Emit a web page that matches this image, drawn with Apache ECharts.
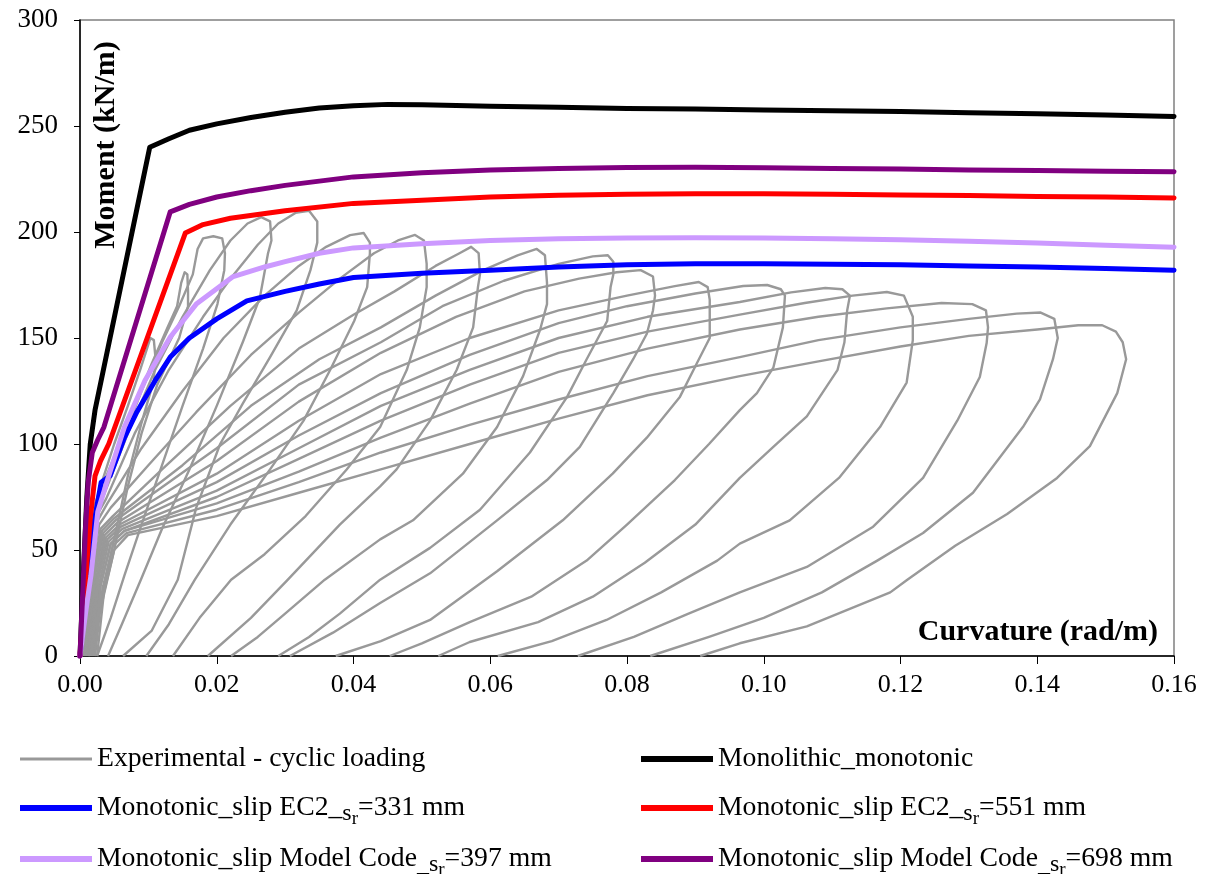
<!DOCTYPE html>
<html><head><meta charset="utf-8">
<script src="https://cdn.jsdelivr.net/npm/echarts/dist/echarts.min.js"></script>
<style>html,body{margin:0;padding:0;background:#fff}#c{width:1211px;height:874px}</style>
</head><body><div id="c"></div>
<script>
// ---------- experimental cyclic loops: [curvature, moment] ----------
const cyc00 = [[0.0004,0],[0.0011,50],[0.0019,68],[0.003,80],[0.005,100],[0.007,118],[0.0088,135],[0.0098,145],[0.0103,150],[0.0108,149],[0.011,142],[0.0108,130],[0.009,110],[0.007,85],[0.005,55],[0.003,25],[0.0012,0]];
const cyc01 = [[0.0005,0],[0.0012,50],[0.002,70],[0.003,78],[0.0055,98],[0.008,118],[0.0105,138],[0.0128,155],[0.0142,165],[0.0148,176],[0.0153,181],[0.0157,180],[0.0158,172],[0.0158,165],[0.0145,150],[0.0113,128],[0.009,105],[0.007,80],[0.005,50],[0.003,22],[0.0012,0]];
const cyc02 = [[0.0006,0],[0.0013,50],[0.0021,70],[0.0033,78],[0.006,100],[0.009,125],[0.012,148],[0.0145,165],[0.0165,180],[0.0172,192],[0.018,197],[0.0195,198],[0.0208,197],[0.0212,190],[0.0211,182],[0.0201,166],[0.018,145],[0.015,118],[0.012,90],[0.009,62],[0.0065,38],[0.0045,18],[0.0025,0]];
const cyc03 = [[0.0007,0],[0.0014,48],[0.0022,68],[0.0035,76],[0.007,105],[0.011,135],[0.015,160],[0.019,182],[0.022,196],[0.0245,204],[0.0265,207],[0.0278,205],[0.028,196],[0.0275,190],[0.0263,169],[0.0238,148],[0.02,118],[0.016,88],[0.012,60],[0.0089,36],[0.006,14],[0.0041,0]];
const cyc04 = [[0.0008,0],[0.0015,46],[0.0024,66],[0.0038,74],[0.008,105],[0.013,135],[0.018,160],[0.022,178],[0.026,194],[0.029,204],[0.0315,209],[0.0335,210],[0.0347,205],[0.0347,195],[0.0337,182],[0.0317,163],[0.0278,141],[0.0238,119],[0.0205,100],[0.017,70],[0.0143,36],[0.0105,12],[0.0063,0]];
const cyc05 = [[0.0009,0],[0.0016,44],[0.0026,64],[0.004,72],[0.009,98],[0.015,125],[0.021,150],[0.027,170],[0.032,184],[0.036,193],[0.0395,198.5],[0.0415,199.5],[0.0424,195],[0.0424,190],[0.042,174],[0.0401,158],[0.0366,135],[0.0327,111],[0.0278,88],[0.022,62],[0.0168,36],[0.013,15],[0.0097,0]];
const cyc06 = [[0.001,0],[0.0018,42],[0.0028,62],[0.0045,70],[0.01,90],[0.017,115],[0.025,142],[0.032,162],[0.038,178],[0.043,190],[0.0465,196],[0.049,198.6],[0.0503,196],[0.0507,185],[0.0507,174],[0.0497,155],[0.0478,135],[0.0439,108],[0.039,88],[0.033,66],[0.027,48],[0.0221,36],[0.0175,18],[0.0136,0]];
const cyc07 = [[0.0011,0],[0.002,40],[0.003,60],[0.0048,66],[0.012,88],[0.022,118],[0.032,145],[0.04,161],[0.046,172],[0.052,184],[0.0555,190],[0.0572,193],[0.0583,190],[0.0585,180],[0.0582,174],[0.0575,155],[0.0551,135],[0.0512,111],[0.0463,88],[0.0439,80],[0.038,62],[0.0304,36],[0.025,18],[0.0187,0]];
const cyc08 = [[0.0012,0],[0.0021,39],[0.0032,59],[0.005,65],[0.015,90],[0.025,118],[0.035,140],[0.044,155],[0.052,170],[0.059,182],[0.064,189],[0.0668,192],[0.068,189],[0.0683,176],[0.0683,166],[0.0673,154],[0.0648,132],[0.061,108],[0.056,86],[0.0487,64],[0.0439,55],[0.0358,36],[0.03,20],[0.026,9],[0.0221,0]];
const cyc09 = [[0.0013,0],[0.0022,38],[0.0034,58],[0.0052,64],[0.02,98],[0.032,128],[0.044,148],[0.053,165],[0.062,177],[0.07,185],[0.075,188.5],[0.0772,189],[0.078,186],[0.078,180],[0.0776,174],[0.0771,158],[0.0741,140],[0.0712,122],[0.0658,96],[0.0585,69],[0.0512,51],[0.0439,36],[0.038,20],[0.0335,9],[0.029,0]];
const cyc10 = [[0.0014,0],[0.0024,37],[0.0036,57],[0.0055,63],[0.02,92],[0.032,120],[0.044,143],[0.055,160],[0.065,172],[0.073,178],[0.0785,181],[0.082,182],[0.0838,179],[0.0841,170],[0.0838,163],[0.0829,152],[0.0809,140],[0.078,124],[0.0731,98.6],[0.0683,83],[0.061,64],[0.0512,39],[0.0439,25],[0.037,11],[0.0307,0]];
const cyc11 = [[0.0015,0],[0.0025,36],[0.0038,56],[0.0058,62],[0.02,86],[0.032,111],[0.044,133],[0.057,150],[0.07,163],[0.08,170],[0.087,174.5],[0.0905,176.4],[0.0918,174],[0.0921,168],[0.0921,150],[0.0902,138],[0.0877,122],[0.0829,103],[0.0779,86],[0.0706,64],[0.061,40],[0.0512,17],[0.044,7],[0.0374,0]];
const cyc12 = [[0.0016,0],[0.0026,35],[0.004,55],[0.006,61],[0.02,82],[0.032,104],[0.044,124],[0.057,142],[0.07,157],[0.08,165],[0.09,171],[0.097,174.5],[0.1005,175],[0.1025,173],[0.1031,170],[0.1028,155],[0.1014,136],[0.099,124],[0.0965,116],[0.092,100],[0.087,83],[0.08,62],[0.0741,45],[0.066,28],[0.057,16],[0.05,6],[0.0453,0]];
const cyc13 = [[0.0018,0],[0.0028,34],[0.0042,54],[0.0062,60],[0.02,78],[0.032,98],[0.044,118],[0.057,135],[0.07,150],[0.083,160],[0.0965,167],[0.104,171.5],[0.109,173.6],[0.1115,173],[0.1126,170],[0.1122,163],[0.1118,148],[0.1108,135],[0.1063,113],[0.1014,98.6],[0.0965,84],[0.09,62],[0.0826,44],[0.075,28],[0.067,16],[0.057,6.6],[0.0524,0]];
const cyc14 = [[0.002,0],[0.003,33],[0.0045,53],[0.0065,59],[0.02,75],[0.032,93],[0.044,111],[0.057,128],[0.07,143],[0.083,153],[0.0965,161],[0.106,166.5],[0.113,170],[0.118,171.7],[0.1205,170],[0.1218,160],[0.1218,149],[0.1209,129],[0.117,108],[0.111,84],[0.1038,64],[0.0965,53],[0.0932,45],[0.085,30],[0.077,17],[0.069,7],[0.0611,0]];
const cyc15 = [[0.0021,0],[0.003,33],[0.0045,53],[0.0065,59],[0.02,72],[0.032,87],[0.044,103],[0.057,119],[0.07,134],[0.083,145],[0.0965,154],[0.108,160],[0.118,164],[0.126,166.5],[0.1305,166],[0.1325,163],[0.1328,155],[0.1326,147.6],[0.1316,131.6],[0.1283,111],[0.1233,84],[0.116,61],[0.1063,42],[0.0965,30],[0.089,20],[0.081,9],[0.0728,0]];
const cyc16 = [[0.0022,0],[0.0033,32],[0.0048,52],[0.0068,58],[0.02,69],[0.032,82],[0.044,96],[0.057,109],[0.07,121],[0.083,132],[0.0965,141],[0.108,149],[0.12,155],[0.13,159],[0.137,161.5],[0.1405,162],[0.1425,159],[0.143,150],[0.1423,140],[0.1404,121],[0.1379,108],[0.1306,77],[0.1233,58],[0.1166,45],[0.1085,30],[0.1,18],[0.092,9],[0.0834,0]];
const cyc17 = [[0.0025,0],[0.0035,30],[0.005,50],[0.007,57],[0.02,66],[0.032,77],[0.044,88],[0.057,100],[0.07,112],[0.083,123],[0.0965,132],[0.108,139],[0.12,146],[0.13,151],[0.14,154],[0.146,156],[0.1495,156],[0.1515,153],[0.1525,148],[0.153,140],[0.1517,124],[0.1477,99],[0.1429,84],[0.1356,67],[0.128,52],[0.121,36],[0.1185,30],[0.1063,14],[0.0965,6],[0.0907,0]];
const cyclicLoops = [cyc00,cyc01,cyc02,cyc03,cyc04,cyc05,cyc06,cyc07,cyc08,cyc09,cyc10,cyc11,cyc12,cyc13,cyc14,cyc15,cyc16,cyc17];

// ---------- monotonic model curves ----------
const monolithic = [[0,0],[0.0005,40],[0.001,75],[0.0015,100],[0.0022,116],[0.0102,240],[0.013,244],[0.016,248],[0.02,251],[0.025,254],[0.03,256.5],[0.035,258.5],[0.04,259.6],[0.045,260.2],[0.05,260],[0.06,259.3],[0.07,258.8],[0.08,258.3],[0.09,258],[0.1,257.6],[0.11,257.2],[0.12,256.8],[0.13,256.3],[0.14,255.8],[0.15,255.2],[0.16,254.5]];
const slipEC2_331 = [[0,0],[0.0006,20],[0.0012,36],[0.002,62],[0.0031,82],[0.0044,85],[0.0065,103],[0.0083,115],[0.011,130],[0.0132,141],[0.016,150],[0.02,159],[0.0244,167.5],[0.03,172],[0.035,175.5],[0.04,178.5],[0.05,180.5],[0.06,182],[0.07,183.5],[0.08,184.5],[0.09,185],[0.1,185],[0.11,184.8],[0.12,184.5],[0.13,184],[0.14,183.5],[0.15,182.8],[0.16,182]];
const slipEC2_551 = [[0,0],[0.0008,35],[0.0015,65],[0.0022,85],[0.003,92],[0.0042,100],[0.0154,199.5],[0.018,203.5],[0.022,206.5],[0.03,210],[0.04,213.5],[0.05,215],[0.06,216.5],[0.07,217.3],[0.08,217.8],[0.09,218],[0.1,218],[0.11,217.8],[0.12,217.5],[0.13,217.2],[0.14,216.8],[0.15,216.5],[0.16,216]];
const slipMC_397 = [[0,0],[0.0008,20],[0.0016,38],[0.0026,68],[0.0041,84],[0.0065,108],[0.0095,130],[0.0132,150.5],[0.017,166],[0.0224,179],[0.027,183.5],[0.03,186],[0.035,190],[0.04,192.5],[0.05,194.5],[0.06,196],[0.07,196.8],[0.08,197.2],[0.09,197.3],[0.1,197.2],[0.11,196.8],[0.12,196.3],[0.13,195.6],[0.14,194.8],[0.15,193.8],[0.16,192.8]];
const slipMC_698 = [[0,0],[0.0004,30],[0.0008,60],[0.0012,82],[0.0018,96],[0.0026,102],[0.0035,108],[0.0132,209.5],[0.016,213],[0.02,216.5],[0.025,219.5],[0.03,222],[0.035,224],[0.04,226],[0.05,228],[0.06,229.3],[0.07,230],[0.08,230.4],[0.09,230.5],[0.1,230.3],[0.11,230],[0.12,229.7],[0.13,229.3],[0.14,229],[0.15,228.7],[0.16,228.4]];

const xMin = 0, xMax = 0.16, xStep = 0.02;
const yMin = 0, yMax = 300, yStep = 50;

const FONT = '"Liberation Serif","Times New Roman",serif';
const N_EXP = 'Experimental - cyclic loading';
const N_MONO = 'Monolithic_monotonic';
const N_EC331 = 'Monotonic_slip EC2_sr=331 mm';
const N_EC551 = 'Monotonic_slip EC2_sr=551 mm';
const N_MC397 = 'Monotonic_slip Model Code_sr=397 mm';
const N_MC698 = 'Monotonic_slip Model Code_sr=698 mm';
const legendRich = {
  [N_EXP]: '{n|Experimental - cyclic loading}',
  [N_MONO]: '{n|Monolithic_monotonic}',
  [N_EC331]: '{n|Monotonic_slip EC2_}{s|s}{r|r}{n|=331 mm}',
  [N_EC551]: '{n|Monotonic_slip EC2_}{s|s}{r|r}{n|=551 mm}',
  [N_MC397]: '{n|Monotonic_slip Model Code}{s|_s}{r|r}{n|=397 mm}',
  [N_MC698]: '{n|Monotonic_slip Model Code}{s|_s}{r|r}{n|=698 mm}'
};

const chart = echarts.init(document.getElementById('c'), null, {renderer:'canvas'});

const series = [];
cyclicLoops.forEach(function(loop){
  series.push({name:N_EXP, type:'line', data:loop, symbol:'none', showSymbol:false, color:'#999999',
    lineStyle:{color:'#999999', width:2.4, join:'round'}, animation:false, silent:true});
});
function mono(name, data, color){
  return {name:name, type:'line', data:data, symbol:'none', showSymbol:false, color:color,
    lineStyle:{color:color, width:5, join:'round', cap:'round'}, animation:false, silent:true};
}
series.push(mono(N_MONO, monolithic, '#000000'));
series.push(mono(N_EC331, slipEC2_331, '#0000FF'));
series.push(mono(N_EC551, slipEC2_551, '#FF0000'));
series.push(mono(N_MC397, slipMC_397, '#CC99FF'));
series.push(mono(N_MC698, slipMC_698, '#800080'));

function leg(name, left, top, h){
  return {data:[name], left:left, top:top, itemWidth:72, itemHeight:h, icon:'rect', padding:0, itemGap:0,
    selectedMode:false,
    formatter:function(n){ return legendRich[n]; },
    textStyle:{fontFamily:FONT, fontSize:27.7, color:'#000',
      rich:{
        n:{fontFamily:FONT, fontSize:27.7, color:'#000', lineHeight:44},
        s:{fontFamily:FONT, fontSize:24, color:'#000', padding:[12,0,0,0]},
        r:{fontFamily:FONT, fontSize:19, color:'#000', padding:[22,0,0,0]}
      }}
  };
}

const option = {
  backgroundColor:'#ffffff',
  animation:false,
  grid:{left:80, right:37, top:20, bottom:218, show:true, borderColor:'#808080', borderWidth:1.5, backgroundColor:'transparent'},
  xAxis:{type:'value', min:xMin, max:xMax, interval:xStep,
    axisLine:{show:true, onZero:false, lineStyle:{color:'#000', width:1.5}},
    axisTick:{show:true, inside:false, length:8, lineStyle:{color:'#000', width:1}},
    splitLine:{show:false},
    axisLabel:{margin:16, fontFamily:FONT, fontSize:26, color:'#000', formatter:function(v){return v.toFixed(2);}}
  },
  yAxis:{type:'value', min:yMin, max:yMax, interval:yStep,
    axisLine:{show:true, onZero:false, lineStyle:{color:'#000', width:1.5}},
    axisTick:{show:true, inside:false, length:6, lineStyle:{color:'#000', width:1}},
    splitLine:{show:false},
    axisLabel:{margin:22, fontFamily:FONT, fontSize:27, color:'#000'}
  },
  legend:[
    leg(N_EXP, 20, 745, 3),
    leg(N_MONO, 641, 745, 6),
    leg(N_EC331, 20, 794, 6),
    leg(N_EC551, 641, 794, 6),
    leg(N_MC397, 20, 845, 6),
    leg(N_MC698, 641, 845, 6)
  ],
  graphic:[
    {type:'text', x:106, y:145, rotation:Math.PI/2, z:100,
      style:{text:'Moment (kN/m)', font:'bold 30px ' + FONT, fill:'#000', textAlign:'center', textVerticalAlign:'middle', align:'center', verticalAlign:'middle'}},
    {type:'text', x:1158, y:632, z:100,
      style:{text:'Curvature (rad/m)', font:'bold 30px ' + FONT, fill:'#000', textAlign:'right', textVerticalAlign:'middle', align:'right', verticalAlign:'middle'}}
  ],
  series:series
};
chart.setOption(option);
</script>
</body></html>
